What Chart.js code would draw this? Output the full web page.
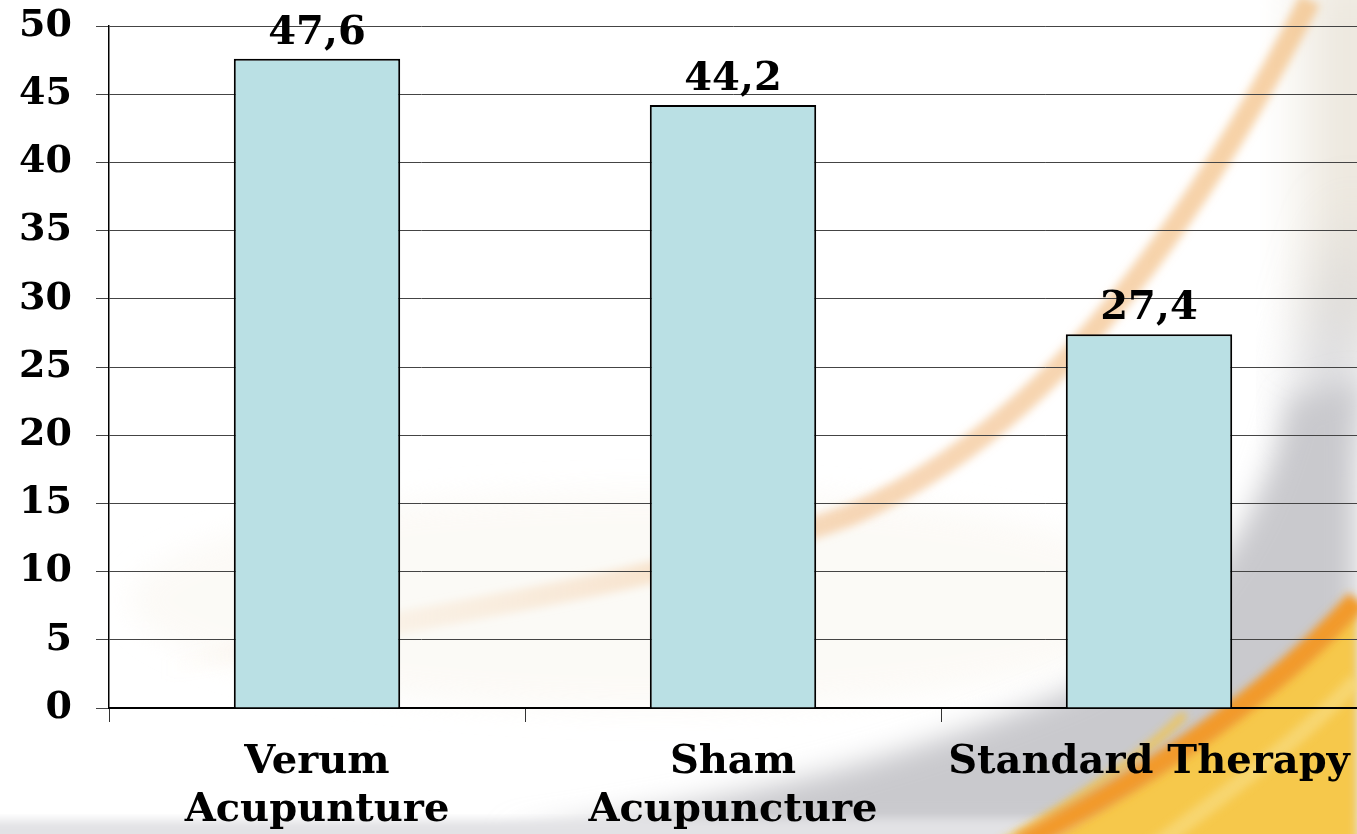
<!DOCTYPE html>
<html>
<head>
<meta charset="utf-8">
<script src="https://cdn.jsdelivr.net/npm/chart.js@4.4.1/dist/chart.umd.min.js"></script>
<style>
  html, body { margin: 0; padding: 0; width: 1357px; height: 834px; overflow: hidden; background: #ffffff; }
  #bg { position: absolute; left: 0; top: 0; width: 1357px; height: 834px; z-index: 0; }
  #wrap { position: absolute; left: 0; top: 0; width: 1357px; height: 834px; z-index: 1; }
</style>
</head>
<body>
<svg id="bg" width="1357" height="834" viewBox="0 0 1357 834">
  <defs>
    <filter id="b0" x="-50%" y="-50%" width="200%" height="200%"><feGaussianBlur stdDeviation="28"/></filter>
    <filter id="b1" x="-30%" y="-30%" width="160%" height="160%"><feGaussianBlur stdDeviation="14"/></filter>
    <filter id="b2" x="-20%" y="-20%" width="140%" height="140%"><feGaussianBlur stdDeviation="5"/></filter>
    <filter id="b3" x="-20%" y="-20%" width="140%" height="140%"><feGaussianBlur stdDeviation="4"/></filter>
    <linearGradient id="sw" x1="160" y1="0" x2="1310" y2="0" gradientUnits="userSpaceOnUse">
      <stop offset="0" stop-color="#f6d6b8" stop-opacity="0"/>
      <stop offset="0.3" stop-color="#f5d3b0" stop-opacity="0.35"/>
      <stop offset="0.6" stop-color="#f2bd88" stop-opacity="0.6"/>
      <stop offset="1" stop-color="#f3bd7e" stop-opacity="0.7"/>
    </linearGradient>
  </defs>
  <rect x="0" y="0" width="1357" height="834" fill="#ffffff"/>
  <!-- faint warm haze -->
  <ellipse cx="650" cy="600" rx="520" ry="110" fill="#faf7f1" opacity="0.6" filter="url(#b1)"/>
  <!-- cream right edge at top -->
  <rect x="1305" y="-40" width="90" height="380" fill="#ece7dd" filter="url(#b0)"/>
  <!-- gray sweep -->
  <path d="M 1357 200 C 1320 300, 1300 380, 1290 430 L 1357 430 Z" fill="#d2d2d5" filter="url(#b0)"/>
  <path d="M 500 834 C 750 800, 900 760, 1070 690 C 1200 630, 1260 520, 1290 400 L 1357 380 L 1357 834 Z" fill="#c9c9cd" filter="url(#b1)"/>
  <!-- bottom band -->
  <rect x="-20" y="820" width="1400" height="30" fill="#e2e2e5" filter="url(#b2)"/>
  <!-- thin orange swoosh -->
  <path d="M 160 670 C 350 625, 650 590, 850 515 C 1000 450, 1150 310, 1310 0" fill="none" stroke="url(#sw)" stroke-width="22" filter="url(#b3)"/>
  <!-- yellow / orange bottom right -->
  <path d="M 1030 850 C 1110 800, 1250 720, 1357 605 L 1357 850 Z" fill="#f6c84c" filter="url(#b2)"/>
  <path d="M 1150 850 C 1230 790, 1300 740, 1357 680" fill="none" stroke="#f8dc80" stroke-width="16" opacity="0.7" filter="url(#b3)"/>
  <path d="M 1000 845 C 1080 800, 1150 750, 1185 714" fill="none" stroke="#f7c23a" stroke-width="8" opacity="0.8" filter="url(#b3)"/>
  <path d="M 1020 845 C 1100 800, 1250 720, 1357 600" fill="none" stroke="#f29a2c" stroke-width="22" filter="url(#b3)"/>
</svg>
<div id="wrap"><canvas id="c" width="1357" height="834"></canvas></div>
<script>
const categories = [["Verum", "Acupunture"], ["Sham", "Acupuncture"], "Standard Therapy"];
const values = [47.6, 44.2, 27.4];
const valueLabels = ["47,6", "44,2", "27,4"];
const yTicks = [0, 5, 10, 15, 20, 25, 30, 35, 40, 45, 50];

const FONT = "'DejaVu Serif', Georgia, serif";

const valueLabelPlugin = {
  id: 'valueLabels',
  afterDatasetsDraw(chart) {
    const ctx = chart.ctx;
    const meta = chart.getDatasetMeta(0);
    ctx.save();
    ctx.font = "bold 40px " + FONT;
    ctx.fillStyle = "#000";
    ctx.textAlign = "center";
    ctx.textBaseline = "alphabetic";
    meta.data.forEach((bar, i) => {
      ctx.fillText(valueLabels[i], bar.x, bar.y - 15);
    });
    ctx.restore();
  }
};

new Chart(document.getElementById('c'), {
  type: 'bar',
  data: {
    labels: categories,
    datasets: [{
      data: values,
      backgroundColor: '#bae0e4',
      borderColor: '#000000',
      borderWidth: 2,
      barPercentage: 0.4,
      categoryPercentage: 1.0
    }]
  },
  options: {
    responsive: false,
    animation: false,
    devicePixelRatio: 1,
    layout: { padding: { left: 0, right: 0, top: 26, bottom: 0 } },
    plugins: { legend: { display: false }, tooltip: { enabled: false } },
    scales: {
      x: {
        grid: { display: true, drawOnChartArea: false, drawTicks: true, tickLength: 14, color: '#333', offset: true },
        border: { display: true, color: '#000', width: 2 },
        ticks: {
          color: '#000',
          font: { family: FONT, size: 40, weight: 'bold', lineHeight: 1.2 },
          padding: 17,
          maxRotation: 0,
          autoSkip: false
        },
        afterFit(scale) {
          scale.height = 126;
          scale.paddingLeft = 0; scale.paddingRight = 0;
          scale.paddingTop = 0; scale.paddingBottom = 0;
        }
      },
      y: {
        min: 0,
        max: 50,
        afterBuildTicks(scale) { scale.ticks = yTicks.map(v => ({ value: v })); },
        grid: { color: '#444', lineWidth: 1, tickLength: 13, drawTicks: true },
        border: { display: true, color: '#000', width: 1.5 },
        ticks: {
          color: '#000',
          font: { family: FONT, size: 38, weight: 'bold' },
          padding: 24
        },
        afterFit(scale) {
          scale.width = 109;
          scale.paddingLeft = 0; scale.paddingRight = 0;
          scale.paddingTop = 0; scale.paddingBottom = 0;
        }
      }
    }
  },
  plugins: [valueLabelPlugin]
});
</script>
</body>
</html>
